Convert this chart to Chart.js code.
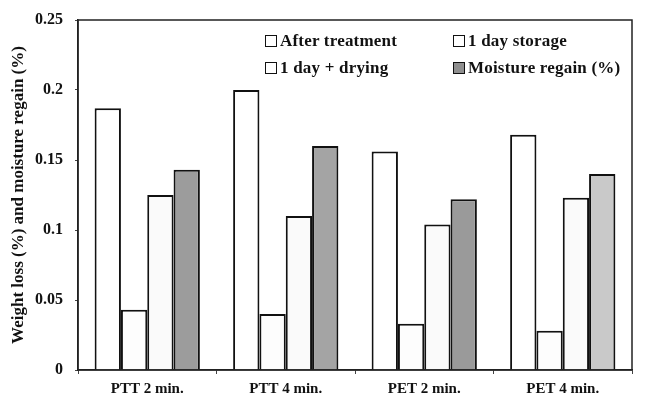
<!DOCTYPE html>
<html>
<head>
<meta charset="utf-8">
<script src="https://cdn.jsdelivr.net/npm/chart.js@4/dist/chart.umd.min.js"></script>
<style>
  html, body { margin: 0; padding: 0; background: #fff; }
  #wrap { position: relative; width: 646px; height: 401px; }
  #legend {
    position: absolute; left: 265px; top: 30px;
    display: grid; grid-template-columns: 188px 180px; row-gap: 6px;
    font: bold 17px "Liberation Serif", "Times New Roman", serif; color: #111;
    letter-spacing: 0.2px;
  }
  #legend span.item { display: flex; align-items: center; white-space: nowrap; height: 21px; }
  #legend i { display: inline-block; width: 10px; height: 10px; border: 1.5px solid #111; margin-right: 3px; }
</style>
</head>
<body>
<div id="wrap">
  <canvas id="chart" width="646" height="401"></canvas>
  <div id="legend"></div>
</div>
<script>
const categorias = ['PTT 2 min.', 'PTT 4 min.', 'PET 2 min.', 'PET 4 min.'];
const series = ['After treatment', '1 day storage', '1 day + drying', 'Moisture regain (%)'];
const afterTreatment = [0.187, 0.200, 0.156, 0.168];
const oneDayStorage = [0.043, 0.040, 0.033, 0.028];
const oneDayDrying = [0.125, 0.110, 0.104, 0.123];
const moistureRegain = [0.143, 0.160, 0.122, 0.140];
const yTicks = ['0', '0.05', '0.1', '0.15', '0.2', '0.25'];

const rellenos = ['#fff', '#fdfdfd', '#fafafa', ['#9c9c9c', '#a4a4a4', '#9a9a9a', '#c9c9c9']];
const valores = [afterTreatment, oneDayStorage, oneDayDrying, moistureRegain];
const fuente = '"Liberation Serif", "Times New Roman", serif';

document.getElementById('legend').innerHTML = series
  .map((s, i) => {
    const c = Array.isArray(rellenos[i]) ? '#8f8f8f' : '#fff';
    return `<span class="item"><i style="background:${c}"></i>${s}</span>`;
  })
  .join('');

const marco = {
  id: 'marco',
  afterDraw(chart) {
    const { ctx, chartArea: a } = chart;
    ctx.save();
    ctx.strokeStyle = '#222';
    ctx.lineWidth = 1.5;
    ctx.strokeRect(a.left, a.top, a.right - a.left, a.bottom - a.top);
    ctx.restore();
  }
};

new Chart(document.getElementById('chart'), {
  type: 'bar',
  data: {
    labels: categorias,
    datasets: series.map((s, i) => ({
      label: s,
      data: valores[i],
      backgroundColor: rellenos[i],
      borderColor: '#111',
      borderWidth: 2,
      borderSkipped: 'bottom',
      categoryPercentage: 0.76,
      barPercentage: 1
    }))
  },
  options: {
    responsive: false,
    animation: false,
    layout: { padding: { top: 8, right: 14, left: 8, bottom: 0 } },
    plugins: { legend: { display: false }, tooltip: { enabled: false } },
    scales: {
      x: {
        grid: { display: true, drawOnChartArea: false, drawTicks: true, tickLength: 4, color: '#444', offset: true },
        border: { color: '#222', width: 1.5 },
        ticks: { color: '#111', font: { family: fuente, weight: 'bold', size: 15 }, padding: 6 },
        afterFit(s) { s.height = 31; }
      },
      y: {
        min: 0,
        max: 0.25,
        ticks: {
          stepSize: 0.05,
          color: '#111',
          font: { family: fuente, weight: 'bold', size: 16, lineHeight: 1 },
          padding: 12,
          callback: (v, i) => yTicks[i]
        },
        grid: { display: true, drawOnChartArea: false, drawTicks: true, tickLength: 3, color: '#444' },
        border: { color: '#222', width: 1.5 },
        title: {
          display: true,
          text: 'Weight loss (%) and moisture regain (%)',
          color: '#111',
          font: { family: fuente, weight: 'bold', size: 17 },
          padding: { top: 0, bottom: 0 }
        },
        afterFit(s) { s.width = 70; }
      }
    }
  },
  plugins: [marco]
});
</script>
</body>
</html>
